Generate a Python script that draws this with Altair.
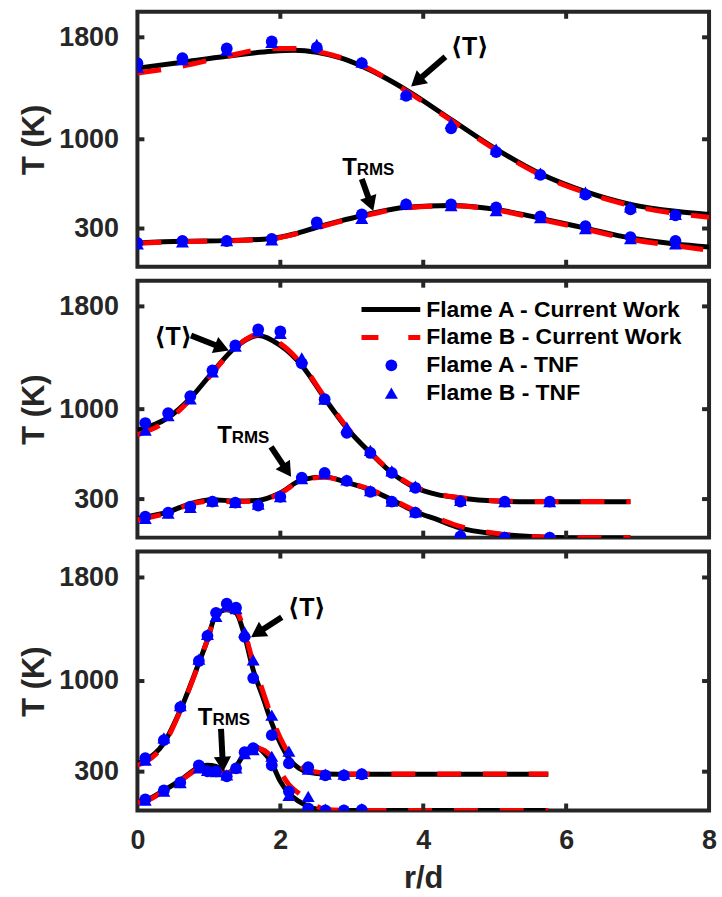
import math
import altair as alt
import pandas as pd

FRAME = "#262626"
BLUE = "#0000FF"
RED = "#FF0000"
FONT = "Liberation Sans"

PLOT_W = 574
PANEL_H = [256, 258, 260]
X_DOMAIN = [0, 8]
Y_DOMAIN = [0, 2000]
X_TICKS = [0, 2, 4, 6, 8]
INNER_X_TICKS = [2, 4, 6]
Y_TICKS = [300, 1000, 1800]

# ---------------- Panel 1 (top) ----------------
MODEL_X1 = [0, 0.63, 1.25, 1.88, 2.2, 2.51, 2.83, 3.14, 3.76, 4.39, 5.02, 5.64, 6.27, 6.90, 7.53, 8.0]
A_MEAN1 = [1558, 1605, 1651, 1690, 1698, 1682, 1640, 1574, 1388, 1155, 923, 729, 589, 489, 435, 411]
B_MEAN1 = [1520, 1574, 1651, 1713, 1713, 1690, 1645, 1581, 1380, 1148, 915, 721, 582, 481, 419, 388]
A_RMS1 = [187, 200, 205, 222, 258, 310, 358, 400, 466, 481, 450, 380, 303, 225, 179, 155]
B_RMS1 = [185, 198, 203, 219, 255, 305, 354, 395, 462, 478, 445, 372, 295, 215, 165, 130]

TNF_X1 = [0, 0.63, 1.25, 1.88, 2.51, 3.14, 3.76, 4.39, 5.02, 5.64, 6.27, 6.90, 7.53]
TNF_A_MEAN1 = [1597, 1636, 1713, 1767, 1721, 1597, 1341, 1085, 900, 721, 566, 450, 404]
TNF_B_MEAN1 = [1565, 1625, 1700, 1760, 1745, 1605, 1355, 1124, 923, 735, 585, 470, 410]
TNF_A_RMS1 = [187, 202, 202, 218, 349, 411, 489, 489, 466, 396, 318, 233, 202]
TNF_B_RMS1 = [180, 195, 205, 210, 340, 380, 495, 480, 440, 385, 300, 220, 180]

# ---------------- Panel 2 (middle) ----------------
MODEL_X2 = [0, 0.44, 0.74, 1.05, 1.37, 1.69, 2.0, 2.3, 2.62, 2.93, 3.26, 3.56, 3.89, 4.2, 4.5, 5.0, 5.5, 6.0, 6.9]
A_MEAN2 = [837, 938, 1085, 1287, 1481, 1574, 1496, 1341, 1085, 853, 660, 504, 388, 335, 310, 285, 280, 280, 280]
B_MEAN2 = [800, 920, 1075, 1280, 1480, 1580, 1510, 1350, 1095, 860, 665, 510, 395, 340, 312, 287, 282, 282, 282]
A_RMS2 = [148, 202, 265, 295, 285, 290, 349, 450, 473, 430, 372, 295, 202, 140, 78, 30, 8, 0, 0]
B_RMS2 = [140, 195, 260, 285, 280, 285, 345, 445, 470, 432, 375, 300, 210, 150, 90, 35, 10, 0, 0]

TNF_X2 = [0.11, 0.43, 0.74, 1.05, 1.37, 1.69, 2.0, 2.3, 2.62, 2.93, 3.26, 3.56, 3.89, 4.52, 5.14, 5.77]
TNF_A_MEAN2 = [892, 969, 1101, 1302, 1496, 1620, 1605, 1357, 1078, 815, 659, 504, 388, 280, 280, 280]
TNF_B_MEAN2 = [837, 950, 1080, 1290, 1490, 1610, 1590, 1400, 1078, 860, 680, 520, 400, 290, 280, 280]
TNF_A_RMS2 = [163, 194, 241, 280, 272, 249, 318, 466, 504, 442, 357, 280, 194, 10, 0, 0]
TNF_B_RMS2 = [150, 190, 235, 285, 275, 260, 320, 460, 500, 450, 365, 285, 200, 35, 5, 5]

# ---------------- Panel 3 (bottom) ----------------
MODEL_X3 = [0, 0.11, 0.37, 0.6, 0.86, 0.98, 1.1, 1.25, 1.38, 1.5, 1.62, 1.75, 1.88, 2.0, 2.12, 2.26, 2.4, 2.63, 3.0, 4.0, 5.75]
A_MEAN3 = [365, 388, 520, 775, 1140, 1318, 1512, 1550, 1527, 1349, 1086, 884, 675, 520, 403, 326, 295, 282, 280, 280, 280]
B_MEAN3 = [350, 375, 510, 770, 1135, 1320, 1510, 1555, 1540, 1380, 1140, 930, 720, 560, 440, 350, 310, 290, 282, 282, 282]
A_RMS3 = [70, 78, 156, 233, 334, 349, 341, 287, 341, 442, 496, 458, 365, 225, 132, 70, 31, 0, 0, 0, 0]
B_RMS3 = [65, 72, 150, 228, 325, 340, 335, 282, 335, 430, 485, 470, 410, 300, 200, 132, 70, 10, 0, 0, 0]

TNF_X3 = [0.11, 0.37, 0.6, 0.86, 0.98, 1.1, 1.25, 1.38, 1.5, 1.62, 1.88, 2.12, 2.39, 2.63, 2.89, 3.14]
TNF_A_MEAN3 = [404, 543, 799, 1155, 1349, 1527, 1597, 1566, 1341, 1023, 582, 365, 334, 272, 272, 280]
TNF_B_MEAN3 = [390, 560, 810, 1170, 1360, 1500, 1580, 1560, 1380, 1163, 737, 458, 320, 280, 280, 287]
TNF_A_RMS3 = [86, 156, 217, 349, 303, 303, 264, 326, 450, 481, 349, 148, 16, 0, 0, 5]
TNF_B_RMS3 = [80, 150, 215, 330, 310, 300, 275, 330, 440, 470, 419, 117, 109, 10, 5, 15]

# ---------------- Annotations (data coordinates) ----------------
MEAN_LABEL = "\u27e8T\u27e9"
MEAN_TEXT_POS = [(4.65, 1727), (0.50, 1558), (2.37, 1562)]
MEAN_ARROW = [((4.31, 1648), (3.83, 1414)), ((0.75, 1574), (1.28, 1457)), ((2.02, 1492), (1.59, 1339))]
RMS_TEXT_POS = [(3.07, 719), (1.32, 737), (1.05, 662)]
RMS_ARROW = [((3.14, 688), (3.30, 438)), ((1.87, 706), (2.15, 473)), ((1.17, 631), (1.20, 300))]

LEGEND_LABELS = ["Flame A - Current Work", "Flame B - Current Work", "Flame A - TNF", "Flame B - TNF"]

PANELS = [
    (MODEL_X1, A_MEAN1, B_MEAN1, A_RMS1, B_RMS1, TNF_X1, TNF_A_MEAN1, TNF_B_MEAN1, TNF_A_RMS1, TNF_B_RMS1),
    (MODEL_X2, A_MEAN2, B_MEAN2, A_RMS2, B_RMS2, TNF_X2, TNF_A_MEAN2, TNF_B_MEAN2, TNF_A_RMS2, TNF_B_RMS2),
    (MODEL_X3, A_MEAN3, B_MEAN3, A_RMS3, B_RMS3, TNF_X3, TNF_A_MEAN3, TNF_B_MEAN3, TNF_A_RMS3, TNF_B_RMS3),
]

HEAD_SIZE = 300
CIRCLE_SIZE = 140
TRI_SIZE = 170


def xs():
    return alt.Scale(domain=X_DOMAIN, nice=False, zero=False)


def ys():
    return alt.Scale(domain=Y_DOMAIN, nice=False, zero=False)


def make_panel(i):
    mx, am, bm, ar, br, tx, tam, tbm, tar, tbr = PANELS[i]
    h = PANEL_H[i]
    last = i == 2

    y_axis = alt.Axis(values=Y_TICKS, format="d", title="T (K)", labelPadding=19, titlePadding=8)
    if last:
        base_x = alt.X("r:Q", scale=xs(), axis=alt.Axis(
            values=X_TICKS, format="d", title="r/d", labelPadding=17, titlePadding=10, labelFlush=False))
    else:
        base_x = alt.X("r:Q", scale=xs(), axis=None)
    base_y = alt.Y("T:Q", scale=ys(), axis=y_axis)

    model = pd.DataFrame(
        [{"r": x, "T": v, "q": "mean"} for x, v in zip(mx, am)]
        + [{"r": x, "T": v, "q": "rms"} for x, v in zip(mx, ar)]
    )
    model_b = pd.DataFrame(
        [{"r": x, "T": v, "q": "mean"} for x, v in zip(mx, bm)]
        + [{"r": x, "T": v, "q": "rms"} for x, v in zip(mx, br)]
    )
    tnf_a = pd.DataFrame(
        [{"r": x, "T": v} for x, v in zip(tx, tam)] + [{"r": x, "T": v} for x, v in zip(tx, tar)]
    )
    tnf_b = pd.DataFrame(
        [{"r": x, "T": v} for x, v in zip(tx, tbm)] + [{"r": x, "T": v} for x, v in zip(tx, tbr)]
    )

    line_a = alt.Chart(model).mark_line(
        color="black", strokeWidth=5, interpolate="monotone", clip=True
    ).encode(x=base_x, y=base_y, detail="q:N")
    line_b = alt.Chart(model_b).mark_line(
        color=RED, strokeWidth=5, strokeDash=[24, 22], interpolate="monotone", clip=True
    ).encode(x=alt.X("r:Q", scale=xs()), y=alt.Y("T:Q", scale=ys()), detail="q:N")
    pts_a = alt.Chart(tnf_a).mark_point(
        shape="circle", filled=True, color=BLUE, size=CIRCLE_SIZE, opacity=1, clip=True
    ).encode(x=alt.X("r:Q", scale=xs()), y=alt.Y("T:Q", scale=ys()))
    pts_b = alt.Chart(tnf_b).mark_point(
        shape="triangle-up", filled=True, color=BLUE, size=TRI_SIZE, opacity=1, clip=True
    ).encode(x=alt.X("r:Q", scale=xs()), y=alt.Y("T:Q", scale=ys()))

    # inward tick marks
    tx_df = pd.DataFrame({"v": INNER_X_TICKS})
    ty_df = pd.DataFrame({"v": Y_TICKS})
    tick_top = alt.Chart(tx_df).mark_rule(color=FRAME, strokeWidth=4).encode(
        x=alt.X("v:Q", scale=xs()), y=alt.value(0), y2=alt.value(7))
    tick_bot = alt.Chart(tx_df).mark_rule(color=FRAME, strokeWidth=4).encode(
        x=alt.X("v:Q", scale=xs()), y=alt.value(h - 7), y2=alt.value(h))
    tick_left = alt.Chart(ty_df).mark_rule(color=FRAME, strokeWidth=4).encode(
        y=alt.Y("v:Q", scale=ys()), x=alt.value(0), x2=alt.value(7))
    tick_right = alt.Chart(ty_df).mark_rule(color=FRAME, strokeWidth=4).encode(
        y=alt.Y("v:Q", scale=ys()), x=alt.value(PLOT_W - 7), x2=alt.value(PLOT_W))

    # arrows
    sx = PLOT_W / (X_DOMAIN[1] - X_DOMAIN[0])
    sy = h / (Y_DOMAIN[1] - Y_DOMAIN[0])
    r_head = math.sqrt(HEAD_SIZE) / 2
    hh = math.sqrt(3) * r_head / 2
    rows = []
    for tail, tip in (MEAN_ARROW[i], RMS_ARROW[i]):
        dx = (tip[0] - tail[0]) * sx
        dy = -(tip[1] - tail[1]) * sy
        L = math.hypot(dx, dy)
        ux, uy = dx / L, dy / L
        cr = tip[0] - ux * hh / sx
        cT = tip[1] + uy * hh / sy
        ang = math.degrees(math.atan2(ux, -uy)) % 360
        rows.append({"r0": tail[0], "T0": tail[1], "r1": cr, "T1": cT, "ang": ang})
    arr = pd.DataFrame(rows)
    shafts = alt.Chart(arr).mark_rule(color="black", strokeWidth=6).encode(
        x=alt.X("r0:Q", scale=xs()), y=alt.Y("T0:Q", scale=ys()), x2="r1:Q", y2="T1:Q")
    heads = alt.Chart(arr).mark_point(
        shape="triangle-up", filled=True, color="black", opacity=1, size=HEAD_SIZE
    ).encode(x=alt.X("r1:Q", scale=xs()), y=alt.Y("T1:Q", scale=ys()),
             angle=alt.Angle("ang:Q", scale=None))

    mt = pd.DataFrame([{"r": MEAN_TEXT_POS[i][0], "T": MEAN_TEXT_POS[i][1], "t": MEAN_LABEL}])
    mean_text = alt.Chart(mt).mark_text(
        font="Liberation Sans, DejaVu Sans", fontSize=25, fontWeight="bold", color="black",
        align="center", baseline="middle"
    ).encode(x=alt.X("r:Q", scale=xs()), y=alt.Y("T:Q", scale=ys()), text="t:N")

    rt = pd.DataFrame([{"r": RMS_TEXT_POS[i][0], "T": RMS_TEXT_POS[i][1], "a": "T", "b": "RMS"}])
    rms_t = alt.Chart(rt).mark_text(
        font=FONT, fontSize=24, fontWeight="bold", color="black", align="right", baseline="alphabetic"
    ).encode(x=alt.X("r:Q", scale=xs()), y=alt.Y("T:Q", scale=ys()), text="a:N")
    rms_s = alt.Chart(rt).mark_text(
        font=FONT, fontSize=17, fontWeight="bold", color="black", align="left", baseline="alphabetic"
    ).encode(x=alt.X("r:Q", scale=xs()), y=alt.Y("T:Q", scale=ys()), text="b:N")

    layers = [line_a, line_b, pts_a, pts_b, tick_top, tick_bot, tick_left, tick_right,
              shafts, heads, mean_text, rms_t, rms_s]

    if i == 1:
        rows_y = [29, 57, 85, 113]
        lx0, lx1, mx_, tx_ = 225, 284, 255, 290
        one = pd.DataFrame({"k": [0]})
        leg = [
            alt.Chart(one).mark_rule(color="black", strokeWidth=5).encode(
                x=alt.value(lx0), x2=alt.value(lx1), y=alt.value(rows_y[0])),
            alt.Chart(one).mark_rule(color=RED, strokeWidth=5, strokeDash=[17, 30]).encode(
                x=alt.value(lx0), x2=alt.value(lx1), y=alt.value(rows_y[1])),
            alt.Chart(one).mark_point(shape="circle", filled=True, color=BLUE, size=CIRCLE_SIZE, opacity=1).encode(
                x=alt.value(mx_), y=alt.value(rows_y[2])),
            alt.Chart(one).mark_point(shape="triangle-up", filled=True, color=BLUE, size=TRI_SIZE, opacity=1).encode(
                x=alt.value(mx_), y=alt.value(rows_y[3])),
        ]
        for k, lab in enumerate(LEGEND_LABELS):
            leg.append(
                alt.Chart(pd.DataFrame({"t": [lab]})).mark_text(
                    font=FONT, fontSize=23, fontWeight="bold", color="black", align="left", baseline="middle"
                ).encode(x=alt.value(tx_), y=alt.value(rows_y[k]), text="t:N")
            )
        layers += leg

    return alt.layer(*layers).properties(width=PLOT_W, height=h)


chart = alt.vconcat(make_panel(0), make_panel(1), make_panel(2), spacing=6).properties(
    padding={"left": 16, "top": 6, "right": 3, "bottom": 0}
).configure_view(
    stroke=FRAME, strokeWidth=4
).configure_axis(
    grid=False, domain=False, ticks=False,
    labelFont=FONT, labelFontSize=27, labelFontWeight="bold", labelColor=FRAME,
    titleFont=FONT, titleFontSize=31, titleFontWeight="bold", titleColor=FRAME,
)

chart.save("out.html", embed_options={"renderer": "svg", "actions": False})
